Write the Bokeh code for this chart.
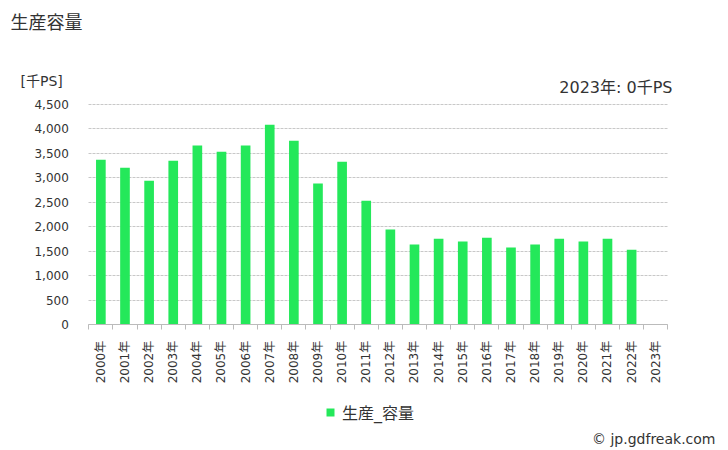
from bokeh.plotting import figure
from bokeh.models import (FixedTicker, NumeralTickFormatter, Label, Legend, LegendItem,
                          ColumnDataSource, Range1d)
from bokeh.embed import file_html
from bokeh.resources import INLINE
import math

years = ["2000年", "2001年", "2002年", "2003年", "2004年", "2005年", "2006年", "2007年",
         "2008年", "2009年", "2010年", "2011年", "2012年", "2013年", "2014年", "2015年",
         "2016年", "2017年", "2018年", "2019年", "2020年", "2021年", "2022年", "2023年"]
capacity = [3370, 3210, 2945, 3350, 3660, 3535, 3660, 4085, 3760, 2885, 3330, 2535,
            1945, 1640, 1760, 1700, 1780, 1580, 1640, 1760, 1700, 1760, 1535, 0]
y_ticks = [0, 500, 1000, 1500, 2000, 2500, 3000, 3500, 4000, 4500]
series_name = "生産_容量"
title_text = "生産容量"
unit_text = "[千PS]"
note_text = "2023年: 0千PS"
credit_text = "© jp.gdfreak.com"

FONT = "DejaVu Sans, Noto Sans CJK JP"
BAR = "#24E85A"
TXT = "#333333"
W, H = 728, 450
# pixel geometry of the plotting area inside the canvas
PX_L, PX_R = 88.3, 667.3
PX_TOP, PX_BOT = 104.0, 324.3
Y_MAX = 4500

n = len(years)
centers = [i + 0.5 for i in range(n)]
src = ColumnDataSource(dict(x=centers, top=capacity, year=years))

xs = (PX_R - PX_L) / n
ys = (PX_BOT - PX_TOP) / Y_MAX
x_range = Range1d(-PX_L / xs, n + (W - PX_R) / xs)
y_range = Range1d(-(H - PX_BOT) / ys, Y_MAX + PX_TOP / ys)

p = figure(width=W, height=H, output_backend="svg", toolbar_location=None,
           x_range=x_range, y_range=y_range,
           min_border_left=0, min_border_right=0, min_border_top=0, min_border_bottom=0)
p.title.visible = False
p.outline_line_color = None
p.background_fill_color = "white"
p.border_fill_color = "white"

r = p.vbar(x="x", top="top", width=0.4, source=src, fill_color=BAR, line_color=None)

# x axis: labels at centres, small ticks at category boundaries
xa = p.xaxis[0]
xa.fixed_location = 0
xa.bounds = (0, n)
xa.ticker = FixedTicker(ticks=centers, minor_ticks=list(range(n + 1)))
xa.major_label_overrides = {c: y for c, y in zip(centers, years)}
xa.major_label_orientation = math.pi / 2
xa.major_tick_out = 0
xa.major_tick_in = 0
xa.minor_tick_out = 5
xa.minor_tick_in = 0
xa.minor_tick_line_color = "#bbbbbb"
xa.axis_line_color = "#bbbbbb"
xa.major_label_text_font = FONT
xa.major_label_text_font_size = "12px"
xa.major_label_text_color = TXT
xa.major_label_standoff = 11

ya = p.yaxis[0]
ya.fixed_location = 0
ya.bounds = (0, Y_MAX)
ya.ticker = FixedTicker(ticks=y_ticks)
ya.formatter = NumeralTickFormatter(format="0,0")
ya.axis_line_color = None
ya.major_tick_line_color = None
ya.minor_tick_line_color = None
ya.major_label_text_font = FONT
ya.major_label_text_font_size = "12px"
ya.major_label_text_color = TXT
ya.major_label_standoff = 14

p.xgrid.grid_line_color = None
yg = p.ygrid[0]
yg.ticker = FixedTicker(ticks=y_ticks)
if "cross_bounds" in yg.properties():
    yg.cross_bounds = (0, n)
    yg.grid_line_color = "#c8c8c8"
    yg.grid_line_dash = "3 1"
else:
    yg.grid_line_color = None
    p.segment(x0=[0] * len(y_ticks), x1=[n] * len(y_ticks), y0=y_ticks, y1=y_ticks,
              line_color="#c8c8c8", line_dash="3 1", level="underlay")

def lab(text, x, y, size, align="left"):
    # x, y: canvas pixels from top-left
    p.add_layout(Label(x=x, y=H - y, x_units="screen", y_units="screen", text=text,
                       text_font=FONT, text_font_size=size, text_color=TXT,
                       text_align=align, text_baseline="middle"))

lab(title_text, 10, 22, "18px")
lab(unit_text, 20, 80, "14px")
lab(note_text, 672, 87, "16px", "right")
lab(credit_text, 715, 438, "14px", "right")

legend = Legend(items=[LegendItem(label=series_name, renderers=[r])],
                location=(325, 26), orientation="horizontal",
                label_text_font=FONT, label_text_font_size="16px", label_text_color=TXT,
                glyph_width=10, glyph_height=10, label_standoff=7,
                padding=0, margin=0, border_line_color=None, background_fill_alpha=0)
p.add_layout(legend, "center")

open("out.html", "w").write(file_html(p, INLINE))
